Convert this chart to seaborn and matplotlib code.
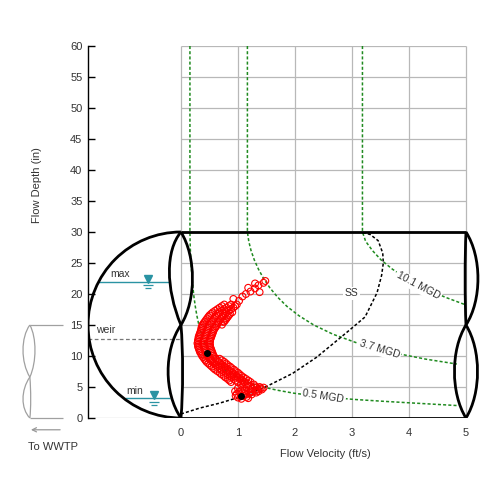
import matplotlib
matplotlib.use("Agg")
import matplotlib.pyplot as plt
import seaborn as sns
import pandas as pd
from matplotlib.path import Path
from matplotlib.patches import PathPatch, Arc

# scattergraph readings: velocity (ft/s) and depth (in)
# bottom cluster
low_vel = [1.00, 1.05, 1.10, 1.15, 1.20, 1.25, 1.30, 1.35, 1.40, 1.45,
           1.38, 1.30, 1.22, 1.15, 1.08, 1.02, 0.98, 1.12, 1.25, 1.33,
           1.18, 1.10, 1.05, 1.28, 1.20, 0.96, 1.06, 1.15, 1.24, 1.32,
           1.12, 1.22, 1.36, 1.42, 1.08, 1.00, 0.95, 1.18]
low_depth = [3.3, 3.5, 3.6, 3.8, 4.0, 4.2, 4.4, 4.6, 4.8, 4.9,
             5.0, 5.1, 5.2, 5.0, 4.6, 4.2, 3.9, 4.4, 4.7, 4.9,
             5.5, 5.8, 5.4, 5.4, 4.6, 3.6, 3.1, 3.4, 3.8, 4.1,
             3.9, 4.3, 4.3, 4.6, 5.1, 4.8, 4.3, 3.2]
# main band
band_vel = [0.88, 1.00, 1.12, 1.22,  0.85, 0.96, 1.07, 1.18,
            0.82, 0.93, 1.04, 1.14,  0.78, 0.89, 1.00, 1.10,
            0.75, 0.86, 0.97, 1.06,  0.71, 0.82, 0.93, 1.03,
            0.68, 0.79, 0.90, 1.00,  0.64, 0.75, 0.86, 0.96,
            0.60, 0.71, 0.82, 0.93,  0.57, 0.68, 0.79, 0.89,
            0.54, 0.65, 0.76, 0.86,  0.51, 0.61, 0.72, 0.82,
            0.48, 0.58, 0.69, 0.79,  0.45, 0.55, 0.66, 0.76,
            0.43, 0.53, 0.63, 0.72,  0.41, 0.51, 0.61, 0.68,
            0.39, 0.49, 0.59,  0.37, 0.47, 0.57,
            0.36, 0.46, 0.56,  0.34, 0.44, 0.55,
            0.33, 0.43, 0.54,  0.32, 0.42, 0.53,
            0.31, 0.41, 0.52,  0.30, 0.40, 0.51,
            0.30, 0.40, 0.51,  0.29, 0.39, 0.50,
            0.30, 0.40, 0.51,  0.30, 0.40, 0.51,
            0.31, 0.41, 0.52,  0.31, 0.42, 0.53,
            0.32, 0.43, 0.54,  0.33, 0.44, 0.55,
            0.34, 0.45, 0.56,  0.35, 0.46, 0.57,
            0.36, 0.47, 0.58,  0.36, 0.48, 0.60,
            0.37, 0.49, 0.62,  0.38, 0.50, 0.63, 0.72,
            0.40, 0.52, 0.65,  0.42, 0.54, 0.66, 0.76,
            0.44, 0.56, 0.68, 0.78,  0.46, 0.58, 0.70, 0.80,
            0.48, 0.60, 0.72, 0.82,  0.50, 0.62, 0.74, 0.84,
            0.53, 0.65, 0.77, 0.86,  0.56, 0.68, 0.80, 0.90,
            0.60, 0.72, 0.84,  0.64, 0.76, 0.88,
            0.68, 0.80, 0.92,  0.72, 0.84, 0.95,
            0.76, 0.88, 0.98]
band_depth = [5.8, 5.8, 5.8, 5.8,  6.05, 6.05, 6.05, 6.05,
              6.3, 6.3, 6.3, 6.3,  6.55, 6.55, 6.55, 6.55,
              6.8, 6.8, 6.8, 6.8,  7.05, 7.05, 7.05, 7.05,
              7.3, 7.3, 7.3, 7.3,  7.55, 7.55, 7.55, 7.55,
              7.8, 7.8, 7.8, 7.8,  8.05, 8.05, 8.05, 8.05,
              8.3, 8.3, 8.3, 8.3,  8.55, 8.55, 8.55, 8.55,
              8.8, 8.8, 8.8, 8.8,  9.05, 9.05, 9.05, 9.05,
              9.3, 9.3, 9.3, 9.3,  9.55, 9.55, 9.55, 9.55,
              9.8, 9.8, 9.8,  10.05, 10.05, 10.05,
              10.3, 10.3, 10.3,  10.55, 10.55, 10.55,
              10.8, 10.8, 10.8,  11.05, 11.05, 11.05,
              11.3, 11.3, 11.3,  11.55, 11.55, 11.55,
              11.8, 11.8, 11.8,  12.05, 12.05, 12.05,
              12.3, 12.3, 12.3,  12.55, 12.55, 12.55,
              12.8, 12.8, 12.8,  13.05, 13.05, 13.05,
              13.3, 13.3, 13.3,  13.55, 13.55, 13.55,
              13.8, 13.8, 13.8,  14.05, 14.05, 14.05,
              14.3, 14.3, 14.3,  14.55, 14.55, 14.55,
              14.8, 14.8, 14.8,  15.05, 15.05, 15.05, 15.05,
              15.3, 15.3, 15.3,  15.55, 15.55, 15.55, 15.55,
              15.8, 15.8, 15.8, 15.8,  16.05, 16.05, 16.05, 16.05,
              16.3, 16.3, 16.3, 16.3,  16.55, 16.55, 16.55, 16.55,
              16.8, 16.8, 16.8, 16.8,  17.05, 17.05, 17.05, 17.05,
              17.3, 17.3, 17.3,  17.55, 17.55, 17.55,
              17.8, 17.8, 17.8,  18.05, 18.05, 18.05,
              18.3, 18.3, 18.3]
# sparse readings at the top
top_vel = [1.02, 0.92, 1.08, 1.14, 1.22, 1.18, 1.30, 1.38, 1.36, 1.45,
           1.30, 1.48, 0.74]
top_depth = [18.9, 19.2, 19.6, 20.0, 20.4, 21.0, 20.9, 20.3, 21.4, 21.8,
             21.7, 22.1, 15.5]

# two highlighted readings
mark_vel = [0.46, 1.05]
mark_depth = [10.5, 3.5]

# iso-flow lines (velocity, depth)
q05_vel = [0.158, 0.158, 0.161, 0.166, 0.174, 0.184, 0.196, 0.211, 0.229, 0.252,
           0.280, 0.315, 0.361, 0.422, 0.505, 0.625, 0.736, 0.889, 1.107, 1.249,
           1.44, 1.68, 1.98, 2.42, 3.03, 3.54, 4.10, 4.86]
q05_depth = [60, 30, 28.5, 27, 25.5, 24, 22.5, 21, 19.5, 18,
             16.5, 15, 13.5, 12, 10.5, 9, 8, 7, 6, 5.5,
             5, 4.5, 4, 3.5, 3, 2.7, 2.4, 2.0]
q37_vel = [1.166, 1.166, 1.19, 1.23, 1.287, 1.36, 1.45, 1.56, 1.695, 1.86, 2.07,
           2.33, 2.67, 3.12, 3.74, 4.29, 4.84]
q37_depth = [60, 30, 28.5, 27, 25.5, 24, 22.5, 21, 19.5, 18, 16.5, 15, 13.5, 12,
             10.5, 9.5, 8.7]
q101_vel = [3.184, 3.184, 3.24, 3.36, 3.51, 3.71, 3.96, 4.26, 4.63, 4.98]
q101_depth = [60, 30, 28.5, 27, 25.5, 24, 22.5, 21, 19.5, 18.3]
ss_vel = [0.0, 0.33, 0.68, 1.04, 1.44, 1.96, 2.38, 2.79, 2.96, 3.23, 3.44,
          3.52, 3.55, 3.54, 3.46, 3.32, 3.19]
ss_depth = [0.65, 1.6, 2.4, 3.4, 4.8, 7.2, 9.8, 12.9, 14.2, 16.3, 20.2,
            23.0, 25.0, 26.6, 28.6, 29.6, 29.9]

depth_ticks = [0, 5, 10, 15, 20, 25, 30, 35, 40, 45, 50, 55, 60]
vel_ticks = [0, 1, 2, 3, 4, 5]
curve_labels = ["0.5 MGD", "3.7 MGD", "10.1 MGD", "SS"]
label_vel = [2.50, 3.48, 4.16, 2.99]
label_depth = [3.44, 11.1, 21.3, 20.1]
label_rot = [-9, -17, -28, 0]

sns.set_style("white")
plt.rcParams["font.family"] = ["Liberation Sans", "DejaVu Sans"]

GRID = "#b8b8b8"
TXT = "#333333"
TEAL = "#2a93a3"
GREEN = "#1f8a1f"
PIPE_LW = 2.0
CAP_W = 1.63

fig = plt.figure(figsize=(5, 5), dpi=100)
ax = fig.add_axes([0.176, 0.164, 0.784, 0.744])
ax.set_xlim(-CAP_W, 5.246)
ax.set_ylim(0, 60)

# grid only over the chart area
ax.vlines(vel_ticks, 0, 60, colors=GRID, lw=0.9, zorder=1)
ax.hlines(depth_ticks[1:], 0, 5, colors=GRID, lw=0.9, zorder=1)
ax.hlines(0, -CAP_W, 0, colors=GRID, lw=0.9, zorder=1)


def lobe(x0, top, bot, c, y1, y2):
    return Path([(x0, top), (x0 + c, y1), (x0 + c, y2), (x0, bot)],
                [Path.MOVETO, Path.CURVE4, Path.CURVE4, Path.CURVE4])


def draw_lobes(specs, color, lw, clip=True):
    for s in specs:
        ax.add_patch(PathPatch(lobe(*s), fc="none", ec=color, lw=lw,
                               zorder=4, clip_on=clip))


# pipe body
ax.hlines([0, 30], 0, 5, colors="black", lw=PIPE_LW, zorder=4)
ax.add_patch(Arc((0, 15), 2 * CAP_W, 30, theta1=90, theta2=270,
                 color="black", lw=PIPE_LW, zorder=4))
draw_lobes([(0, 30, 15, -0.27, 27, 21), (0, 30, 15, 0.27, 26, 19),
            (0, 15, 0, -0.30, 11, 4), (0, 15, 0, 0.04, 11, 4)], "black", PIPE_LW)
draw_lobes([(5, 30, 15, 0.28, 26, 19), (5, 30, 15, -0.02, 26, 19),
            (5, 15, 0, -0.27, 11, 4), (5, 15, 0, 0.27, 11, 4)], "black", PIPE_LW)

# outlet pipe on the left
draw_lobes([(-2.65, 15, 6.6, -0.16, 13, 9), (-2.65, 15, 6.6, 0.12, 13, 9),
            (-2.65, 6.6, 0, -0.16, 4.5, 1.5), (-2.65, 6.6, 0, 0.02, 4.5, 1.5)],
           "#a0a0a0", 0.9, clip=False)
ax.hlines([0, 15], -2.65, -2.07, colors="#a0a0a0", lw=0.9, clip_on=False)
ax.annotate("", xy=(-2.68, -1.9), xytext=(-2.07, -1.9), annotation_clip=False,
            arrowprops=dict(arrowstyle="->,head_length=0.3,head_width=0.15",
                            color="#999999", lw=0.9))
ax.text(-2.25, -4.7, "To WWTP", ha="center", va="center", fontsize=8, color=TXT)

# weir and water levels
ax.hlines(12.8, -CAP_W, 0, colors="#777777", lw=0.9, linestyles=(0, (3, 2)), zorder=2)
ax.text(-1.49, 14.2, "weir", fontsize=7.5, color=TXT, va="center")
for lvl, x0, x1, xm, name, xt in [(22, -1.46, -0.2, -0.58, "max", -1.07),
                                  (3.2, -0.98, -0.19, -0.47, "min", -0.82)]:
    ax.hlines(lvl, x0, x1, colors=TEAL, lw=1.0, zorder=3)
    ax.plot([xm], [lvl + 0.45], marker="v", ms=6, color=TEAL, zorder=3)
    ax.hlines(lvl - 0.55, xm - 0.09, xm + 0.09, colors=TEAL, lw=0.9)
    ax.hlines(lvl - 1.05, xm - 0.05, xm + 0.05, colors=TEAL, lw=0.9)
    ax.text(xt, lvl + 1.2, name, ha="center", va="center", fontsize=7.5, color=TXT)

# iso-flow and pipe curve
dots = (0, (2, 1.4))
for xs, ys in [(q05_vel, q05_depth), (q37_vel, q37_depth), (q101_vel, q101_depth)]:
    ax.plot(xs, ys, color=GREEN, lw=1.1, ls=dots, zorder=3)
ax.plot(ss_vel, ss_depth, color="black", lw=1.1, ls=dots, zorder=3)
for t, x, y, r in zip(curve_labels, label_vel, label_depth, label_rot):
    ax.text(x, y, t, rotation=r, ha="center", va="center", fontsize=7.5,
            color=TXT, zorder=5,
            bbox=dict(fc="white", ec="none", pad=1.2))

# scatter
df = pd.DataFrame({"vel": low_vel + band_vel + top_vel,
                   "depth": low_depth + band_depth + top_depth})
sns.scatterplot(data=df, x="vel", y="depth", color="red", s=24,
                linewidth=0.8, ax=ax, zorder=6)
ax.collections[-1].set_facecolor("none")
ax.collections[-1].set_edgecolor("red")
ax.plot(mark_vel, mark_depth, "o", color="black", ms=4, zorder=7)

# axes
for side in ["top", "right", "bottom"]:
    ax.spines[side].set_visible(False)
ax.spines["left"].set_color("black")
ax.spines["left"].set_linewidth(1.0)
ax.set_yticks(depth_ticks)
ax.set_xticks(vel_ticks)
ax.tick_params(axis="y", direction="in", length=5, width=1, color="black",
               labelsize=8, labelcolor=TXT, pad=4, left=True)
ax.tick_params(axis="x", length=0, labelsize=8, labelcolor=TXT, pad=7)
ax.set_xlabel("Flow Velocity (ft/s)", fontsize=8, color=TXT)
ax.set_ylabel("Flow Depth (in)", fontsize=8, color=TXT)
ax.xaxis.set_label_coords(0.605, -0.082)
ax.yaxis.set_label_coords(-0.118, 0.627)

fig.savefig("out.png", dpi=100)
